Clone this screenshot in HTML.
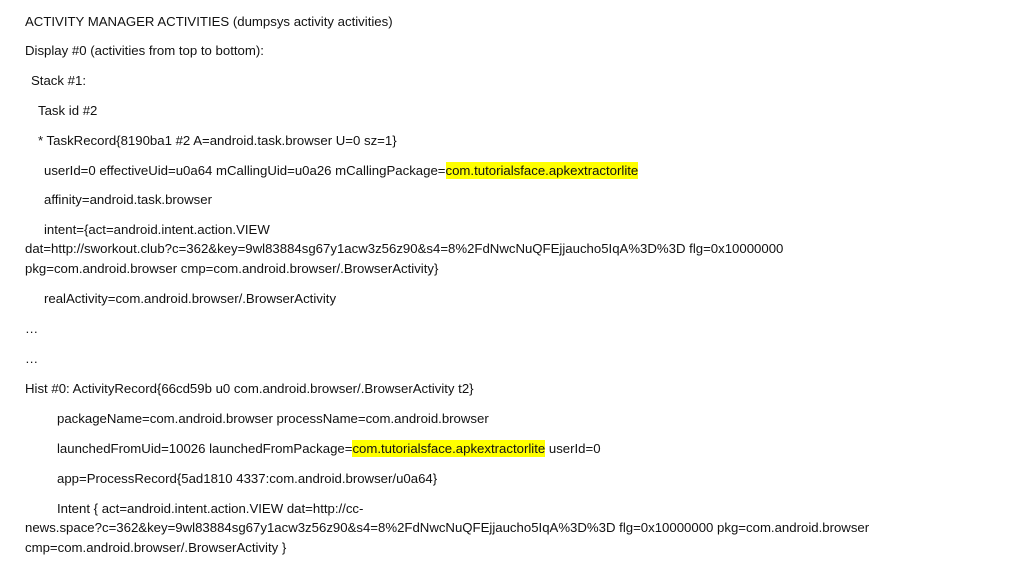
<!DOCTYPE html>
<html><head><meta charset="utf-8"><style>
html,body{margin:0;padding:0;background:#fff;width:1028px;height:571px;overflow:hidden}
body{position:relative;font-family:"Liberation Sans",sans-serif;font-size:13.2px;color:#111}
.l{position:absolute;white-space:nowrap;line-height:16px}
.h{background:#ffff00;padding:1px 0}
</style></head><body>
<div class="l" style="left:25px;top:14px">ACTIVITY MANAGER ACTIVITIES (dumpsys activity activities)</div>
<div class="l" style="left:25px;top:43px">Display #0 (activities from top to bottom):</div>
<div class="l" style="left:31px;top:73px">Stack #1:</div>
<div class="l" style="left:38px;top:103px">Task id #2</div>
<div class="l" style="left:38px;top:133px">* TaskRecord{8190ba1 #2 A=android.task.browser U=0 sz=1}</div>
<div class="l" style="left:44px;top:163px">userId=0 effectiveUid=u0a64 mCallingUid=u0a26 mCallingPackage=<span class="h">com.tutorialsface.apkextractorlite</span></div>
<div class="l" style="left:44px;top:192px">affinity=android.task.browser</div>
<div class="l" style="left:44px;top:222px">intent={act=android.intent.action.VIEW</div>
<div class="l" style="left:25px;top:241px">dat=http://sworkout.club?c=362&amp;key=9wl83884sg67y1acw3z56z90&amp;s4=8%2FdNwcNuQFEjjaucho5IqA%3D%3D flg=0x10000000</div>
<div class="l" style="left:25px;top:261px">pkg=com.android.browser cmp=com.android.browser/.BrowserActivity}</div>
<div class="l" style="left:44px;top:291px">realActivity=com.android.browser/.BrowserActivity</div>
<div class="l" style="left:25px;top:321px">…</div>
<div class="l" style="left:25px;top:351px">…</div>
<div class="l" style="left:25px;top:381px">Hist #0: ActivityRecord{66cd59b u0 com.android.browser/.BrowserActivity t2}</div>
<div class="l" style="left:57px;top:411px">packageName=com.android.browser processName=com.android.browser</div>
<div class="l" style="left:57px;top:441px">launchedFromUid=10026 launchedFromPackage=<span class="h">com.tutorialsface.apkextractorlite</span> userId=0</div>
<div class="l" style="left:57px;top:471px">app=ProcessRecord{5ad1810 4337:com.android.browser/u0a64}</div>
<div class="l" style="left:57px;top:501px">Intent { act=android.intent.action.VIEW dat=http://cc-</div>
<div class="l" style="left:25px;top:520px">news.space?c=362&amp;key=9wl83884sg67y1acw3z56z90&amp;s4=8%2FdNwcNuQFEjjaucho5IqA%3D%3D flg=0x10000000 pkg=com.android.browser</div>
<div class="l" style="left:25px;top:540px">cmp=com.android.browser/.BrowserActivity }</div>
</body></html>
